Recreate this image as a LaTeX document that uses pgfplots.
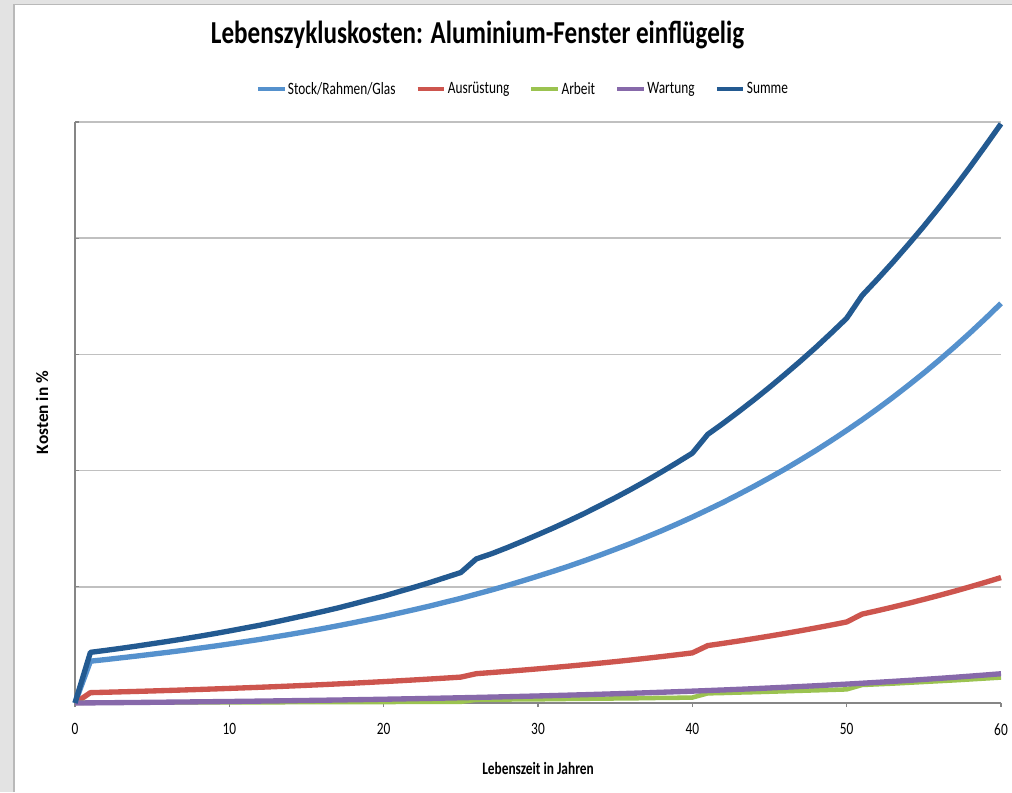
\documentclass[border=0pt]{standalone}
\usepackage{pgfplots}
\pgfplotsset{compat=1.18}
\usepackage{pgfplotstable}
\usepackage{fontspec}
\setmainfont{Carlito}
\usepackage{graphicx}
\newcommand{\sx}[1]{\scalebox{0.77}[1]{#1}}
\definecolor{cstock}{RGB}{85,145,205}
\definecolor{causr}{RGB}{205,85,78}
\definecolor{carbeit}{RGB}{155,195,80}
\definecolor{cwart}{RGB}{135,105,170}
\definecolor{csumme}{RGB}{35,90,145}
\definecolor{axisgray}{RGB}{134,134,134}
\definecolor{gridgray}{RGB}{192,192,192}
\pgfplotstableread{
t stock ausr arbeit wartung summe
0 0 0 0 0 0
1 0.360 0.0890 0.004 0.0011 0.436
2 0.374 0.0925 0.004 0.0022 0.453
3 0.389 0.0961 0.004 0.0034 0.471
4 0.404 0.0998 0.004 0.0047 0.490
5 0.420 0.1037 0.005 0.0059 0.510
6 0.436 0.1078 0.005 0.0073 0.530
7 0.453 0.1120 0.005 0.0087 0.551
8 0.471 0.1163 0.005 0.0101 0.573
9 0.489 0.1209 0.005 0.0116 0.596
10 0.508 0.1256 0.006 0.0131 0.620
11 0.528 0.1305 0.006 0.0147 0.645
12 0.548 0.1355 0.006 0.0164 0.670
13 0.570 0.1408 0.006 0.0182 0.698
14 0.592 0.1463 0.007 0.0200 0.727
15 0.615 0.1520 0.007 0.0219 0.756
16 0.639 0.1580 0.007 0.0238 0.786
17 0.664 0.1641 0.007 0.0258 0.817
18 0.690 0.1705 0.008 0.0280 0.851
19 0.717 0.1772 0.008 0.0301 0.886
20 0.744 0.1841 0.008 0.0324 0.920
21 0.774 0.1913 0.009 0.0348 0.959
22 0.804 0.1987 0.009 0.0372 0.997
23 0.835 0.2065 0.009 0.0398 1.037
24 0.868 0.2145 0.010 0.0424 1.080
25 0.901 0.2229 0.010 0.0452 1.123
26 0.937 0.2524 0.028 0.0480 1.240
27 0.973 0.2622 0.029 0.0510 1.285
28 1.011 0.2725 0.030 0.0540 1.337
29 1.051 0.2830 0.031 0.0573 1.392
30 1.092 0.2941 0.032 0.0606 1.449
31 1.134 0.3056 0.033 0.0641 1.507
32 1.178 0.3175 0.035 0.0677 1.568
33 1.224 0.3299 0.036 0.0714 1.631
34 1.272 0.3427 0.038 0.0754 1.698
35 1.322 0.3561 0.039 0.0794 1.766
36 1.373 0.3700 0.040 0.0836 1.837
37 1.427 0.3844 0.042 0.0879 1.911
38 1.482 0.3994 0.044 0.0925 1.988
39 1.540 0.4150 0.045 0.0972 2.068
40 1.600 0.4312 0.047 0.1020 2.150
41 1.663 0.4941 0.083 0.1071 2.312
42 1.727 0.5134 0.086 0.1123 2.407
43 1.795 0.5334 0.090 0.1177 2.507
44 1.865 0.5543 0.093 0.1234 2.610
45 1.938 0.5759 0.097 0.1295 2.717
46 2.013 0.5983 0.101 0.1356 2.828
47 2.092 0.6217 0.105 0.1420 2.942
48 2.173 0.6459 0.109 0.1486 3.060
49 2.258 0.6711 0.113 0.1555 3.184
50 2.346 0.6972 0.117 0.1627 3.311
51 2.437 0.7650 0.155 0.1701 3.507
52 2.532 0.7948 0.161 0.1779 3.648
53 2.631 0.8259 0.167 0.1860 3.794
54 2.734 0.8581 0.174 0.1943 3.946
55 2.840 0.8916 0.181 0.2030 4.103
56 2.951 0.9264 0.188 0.2120 4.267
57 3.066 0.9624 0.195 0.2214 4.437
58 3.186 1.0001 0.203 0.2312 4.614
59 3.310 1.0390 0.211 0.2413 4.797
60 3.439 1.0795 0.219 0.2517 4.984
}\data
\begin{document}
\begin{tikzpicture}
\useasboundingbox (0,0) rectangle (759pt,594pt);
\fill[gray!22] (0,0) rectangle (759pt,594pt);
\fill[white] (10.5pt,0) rectangle (759pt,590.5pt);
\draw[gray!55, line width=0.8pt] (10.5pt,0) -- (10.5pt,590.5pt) -- (759pt,590.5pt);
\begin{axis}[
  at={(56.25pt,66.75pt)}, anchor=south west,
  scale only axis, width=694.5pt, height=435.75pt,
  xmin=0, xmax=60, ymin=0, ymax=5,
  axis lines*=left,
  axis line style={axisgray, line width=1.1pt},
  xtick={0,10,...,60},
  ytick={0,1,...,5},
  yticklabels={},
  tick align=outside,
  major tick length=3pt,
  xtick style={axisgray, line width=0.8pt},
  ytick style={axisgray, line width=0.8pt, xshift=3pt},
  ymajorgrids,
  major grid style={gridgray, line width=1.1pt},
  /pgf/number format/assume math mode=true,
  xticklabel={\sx{\pgfmathprintnumber{\tick}}},
  ticklabel style={font=\fontsize{13}{15}\selectfont},
  xticklabel style={yshift=-9pt},
  title={\scalebox{0.785}[1]{\fontsize{24}{28}\selectfont\bfseries Lebenszykluskosten: Aluminium-Fenster einflügelig}},
  title style={at={(axis description cs:0.4347,1.136)}, anchor=center, inner sep=0pt},
  xlabel={\sx{\bfseries Lebenszeit in Jahren}},
  xlabel style={at={(axis description cs:0.5,-0.112)}, anchor=center, font=\fontsize{13}{15}\selectfont},
  ylabel={\bfseries Kosten in \%},
  ylabel style={at={(axis description cs:-0.0356,0.5)}, anchor=center, font=\fontsize{13}{15}\selectfont},
  legend style={at={(axis description cs:0.4833,1.0568)}, anchor=center, draw=none, fill=none,
    legend columns=-1, font=\fontsize{13}{15}\selectfont,
    /tikz/every even column/.append style={column sep=14pt},
    nodes={inner sep=1pt}},
  legend image code/.code={\draw[#1, line width=3.2pt] (0pt,0pt) -- (20pt,0pt);},
  clip=false,
  every axis plot/.append style={line join=round, no markers},
]
\addplot[cstock, line width=4pt] table[x=t, y=stock] {\data};
\addlegendentry{\sx{Stock/Rahmen/Glas}}
\addplot[causr, line width=4pt] table[x=t, y=ausr] {\data};
\addlegendentry{\sx{Ausrüstung}}
\addplot[carbeit, line width=3.4pt] table[x=t, y=arbeit] {\data};
\addlegendentry{\sx{Arbeit}}
\addplot[cwart, line width=4pt] table[x=t, y=wartung] {\data};
\addlegendentry{\sx{Wartung}}
\addplot[csumme, line width=4pt] table[x=t, y=summe] {\data};
\addlegendentry{\sx{Summe}}
\end{axis}
\end{tikzpicture}
\end{document}
